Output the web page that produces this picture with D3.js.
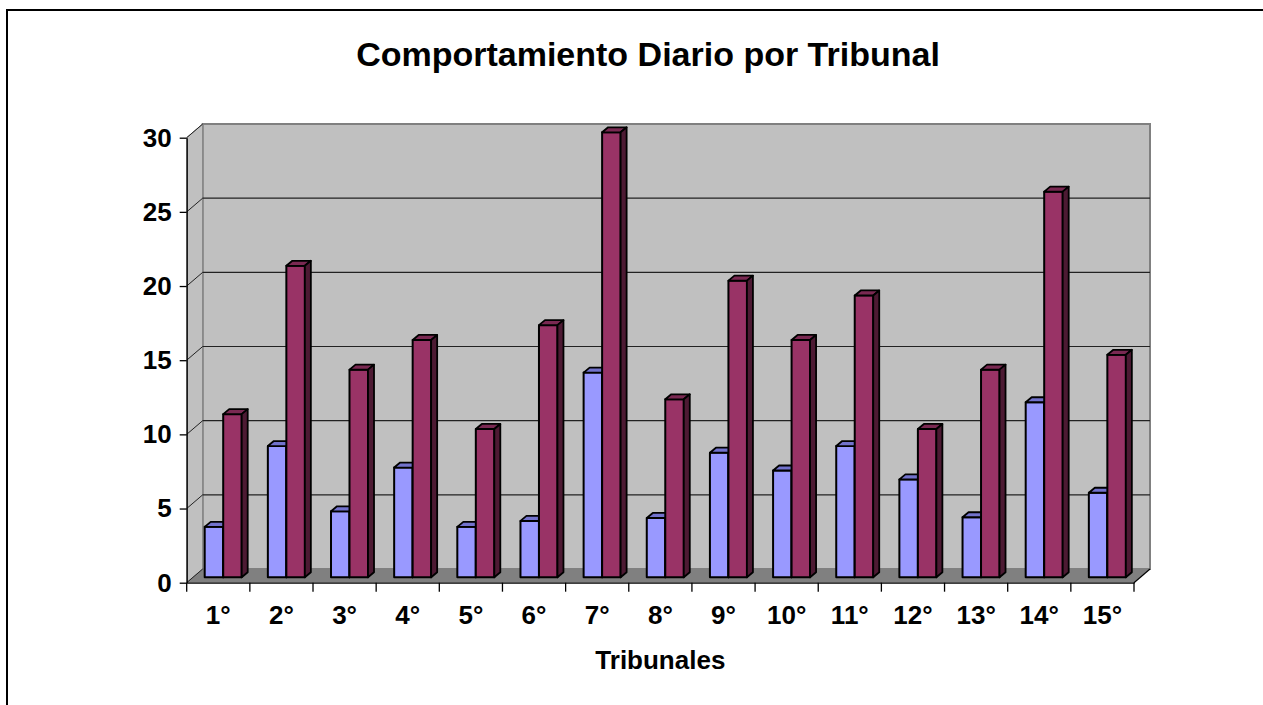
<!DOCTYPE html>
<html>
<head>
<meta charset="utf-8">
<script src="https://cdn.jsdelivr.net/npm/d3@7"></script>
<style>
  body { margin: 0; background: #fff; }
  text { font-family: "Liberation Sans", Arial, sans-serif; font-weight: bold; fill: #000; }
</style>
</head>
<body>
<svg id="chart"></svg>
<script>
// data
var tribunales = ["1°", "2°", "3°", "4°", "5°", "6°", "7°", "8°", "9°", "10°", "11°", "12°", "13°", "14°", "15°"];
var serieA = [3.4, 8.85, 4.45, 7.4, 3.4, 3.8, 13.8, 4.0, 8.4, 7.2, 8.85, 6.6, 4.05, 11.8, 5.7];
var serieB = [11, 21, 14, 16, 10, 17, 30, 12, 20, 16, 19, 10, 14, 26, 15];
var yTicks = [0, 5, 10, 15, 20, 25, 30];

var width = 1263;
var height = 705;

// plot geometry (front floor edge, depth of the 3d box)
var plotLeft = 186.7, plotRight = 1134;
var plotBottom = 582.7, plotTop = 137.7;
var depthX = 16, depthY = -13.7;
// bars sit partway into the box
var barDY = -5.4;
var faceDX = 6, faceDY = -5;

var svg = d3.select("#chart")
    .attr("width", width)
    .attr("height", height);

// outer border
svg.append("rect")
    .attr("x", 7)
    .attr("y", 10)
    .attr("width", 1400)
    .attr("height", 1000)
    .attr("fill", "none")
    .attr("stroke", "#000")
    .attr("stroke-width", 2);

var xScale = d3.scaleBand()
    .domain(tribunales)
    .range([plotLeft, plotRight]);

var seriesScale = d3.scaleBand()
    .domain([0, 1])
    .range([18, 55]);

var yScale = d3.scaleLinear()
    .domain([0, 30])
    .range([plotBottom, plotTop]);

function yBar(v) { return yScale(v) + barDY; }

// back wall
svg.append("rect")
    .attr("x", plotLeft + depthX)
    .attr("y", plotTop + depthY)
    .attr("width", plotRight - plotLeft)
    .attr("height", plotBottom - plotTop)
    .attr("fill", "#c0c0c0")
    .attr("stroke", "#808080")
    .attr("stroke-width", 2);

// side wall
svg.append("path")
    .attr("d", "M" + plotLeft + "," + plotTop + "L" + (plotLeft + depthX) + "," + (plotTop + depthY)
        + "L" + (plotLeft + depthX) + "," + (plotBottom + depthY) + "L" + plotLeft + "," + plotBottom + "Z")
    .attr("fill", "#c0c0c0")
    .attr("stroke", "#808080")
    .attr("stroke-width", 1);

// floor
svg.append("path")
    .attr("d", "M" + plotLeft + "," + plotBottom + "L" + (plotLeft + depthX) + "," + (plotBottom + depthY)
        + "L" + (plotRight + depthX) + "," + (plotBottom + depthY) + "L" + plotRight + "," + plotBottom + "Z")
    .attr("fill", "#808080");

// gridlines: back wall + side wall diagonals
var grid = yTicks.filter(d => d > 0 && d < 30);
svg.selectAll(".gridBack")
  .data(grid)
  .enter()
  .append("line")
    .attr("x1", plotLeft + depthX)
    .attr("x2", plotRight + depthX)
    .attr("y1", d => yScale(d) + depthY)
    .attr("y2", d => yScale(d) + depthY)
    .attr("stroke", "#222")
    .attr("stroke-width", 1.2);

svg.selectAll(".gridSide")
  .data(yTicks)
  .enter()
  .append("line")
    .attr("x1", plotLeft)
    .attr("x2", plotLeft + depthX)
    .attr("y1", d => yScale(d))
    .attr("y2", d => yScale(d) + depthY)
    .attr("stroke", "#222")
    .attr("stroke-width", 1);

// right floor edge
svg.append("line")
    .attr("x1", plotRight)
    .attr("y1", plotBottom)
    .attr("x2", plotRight + depthX)
    .attr("y2", plotBottom + depthY)
    .attr("stroke", "#000")
    .attr("stroke-width", 1.2);

// bars
var colors = [
  { front: "#9999ff", top: "#7272cc", side: "#4d4d80" },
  { front: "#993366", top: "#7a2952", side: "#4d1a33" }
];

var barData = [];
tribunales.forEach(function(t, i) {
  barData.push({ cat: t, s: 0, v: serieA[i] });
  barData.push({ cat: t, s: 1, v: serieB[i] });
});

var bw = seriesScale.bandwidth();

var barG = svg.selectAll(".bar")
  .data(barData)
  .enter()
  .append("g")
    .classed("bar", true);

barG.append("rect")
    .attr("x", d => xScale(d.cat) + seriesScale(d.s))
    .attr("y", d => yBar(d.v))
    .attr("width", bw)
    .attr("height", d => yBar(0) - yBar(d.v))
    .attr("fill", d => colors[d.s].front)
    .attr("stroke", "#000")
    .attr("stroke-width", 2)
    .attr("stroke-linejoin", "round");

barG.append("path")
    .attr("d", function(d) {
      var x0 = xScale(d.cat) + seriesScale(d.s), y0 = yBar(d.v);
      return "M" + x0 + "," + y0 + "L" + (x0 + faceDX) + "," + (y0 + faceDY)
        + "L" + (x0 + bw + faceDX) + "," + (y0 + faceDY) + "L" + (x0 + bw) + "," + y0 + "Z";
    })
    .attr("fill", d => colors[d.s].top)
    .attr("stroke", "#000")
    .attr("stroke-width", 1.8)
    .attr("stroke-linejoin", "round");

barG.append("path")
    .attr("d", function(d) {
      var x1 = xScale(d.cat) + seriesScale(d.s) + bw, y0 = yBar(d.v), yb = yBar(0);
      return "M" + x1 + "," + y0 + "L" + (x1 + faceDX) + "," + (y0 + faceDY)
        + "L" + (x1 + faceDX) + "," + (yb + faceDY) + "L" + x1 + "," + yb + "Z";
    })
    .attr("fill", d => colors[d.s].side)
    .attr("stroke", "#000")
    .attr("stroke-width", 1.8)
    .attr("stroke-linejoin", "round");

// y axis
var yAxis = d3.axisLeft(yScale)
    .tickValues(yTicks)
    .tickSize(7)
    .tickSizeOuter(0)
    .tickPadding(8);

svg.append("g")
    .attr("transform", "translate(" + plotLeft + ",0)")
    .call(yAxis)
    .call(a => a.selectAll("text").style("font-size", "26px"))
    .call(a => a.selectAll("line, path").attr("stroke", "#000").attr("stroke-width", 1.3));

// x axis: labels at centers, ticks at boundaries
var xAxis = d3.axisBottom(xScale)
    .tickSize(0)
    .tickPadding(23);

svg.append("g")
    .attr("transform", "translate(0," + plotBottom + ")")
    .call(xAxis)
    .call(a => a.select(".domain").attr("stroke", "#000").attr("stroke-width", 1.3))
    .call(a => a.selectAll("text").style("font-size", "26px"));

var boundaries = d3.range(tribunales.length + 1).map(i => plotLeft + i * xScale.bandwidth());
svg.selectAll(".xtick")
  .data(boundaries)
  .enter()
  .append("line")
    .attr("x1", d => d)
    .attr("x2", d => d)
    .attr("y1", plotBottom)
    .attr("y2", plotBottom + 9)
    .attr("stroke", "#000")
    .attr("stroke-width", 1.3);

// titles
svg.append("text")
    .attr("x", 648)
    .attr("y", 66)
    .style("text-anchor", "middle")
    .style("font-size", "34px")
    .text("Comportamiento Diario por Tribunal");

svg.append("text")
    .attr("x", (plotLeft + plotRight) / 2)
    .attr("y", 669)
    .style("text-anchor", "middle")
    .style("font-size", "26px")
    .text("Tribunales");
</script>
</body>
</html>
